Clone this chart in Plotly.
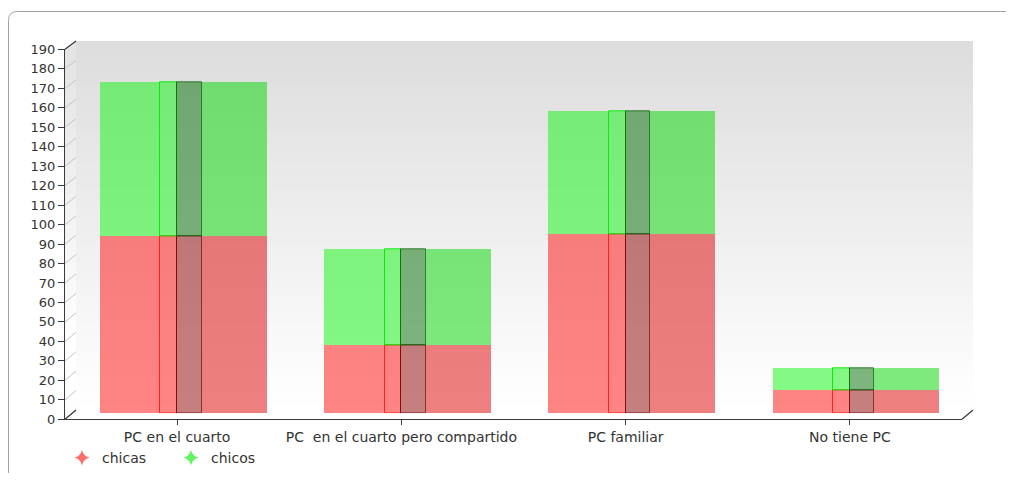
import plotly.graph_objects as go

# ---------------- data ----------------
categories = ["PC en el cuarto", "PC  en el cuarto pero compartido", "PC familiar", "No tiene PC"]
series_names = ["chicas", "chicos"]
chicas = [91, 35, 92, 12]
chicos = [79, 49, 63, 11]
y_ticks = list(range(0, 200, 10))

# ---------------- geometry helpers (window pixel -> paper) ----------------
# the page body has an 8px margin, so the figure is sized to fit the window exactly
WIN_W, WIN_H = 1014, 481
OFF = 8
W, H = WIN_W - 2 * OFF, WIN_H - 2 * OFF


def X(px):
    return (px - OFF) / W


def Y(py):
    return 1 - (py - OFF) / H


FRONT_L, FRONT_R = 65, 962        # front axis x extent
BACK_L, BACK_R = 76, 973          # back wall x extent
FRONT_Y0, FRONT_Y1 = 419.3, 49.3  # front axis: value 0 / 190
BACK_Y0, BACK_Y1 = 410, 41        # back wall: value 0 / 190
BAR_Y0, BAR_Y1 = 413.3, 43.3      # bar plane: value 0 / 190
YMAX = 190


def front_y(v):
    return FRONT_Y0 - v * (FRONT_Y0 - FRONT_Y1) / YMAX


def back_y(v):
    return BACK_Y0 - v * (BACK_Y0 - BACK_Y1) / YMAX


fig = go.Figure()

# ---------------- bars (pseudo 3D prism faces) ----------------
faces = [
    ("left", -0.345, 0.2706),
    ("mid", -0.0744, 0.0744),
    ("dark", 0.0, 0.1096),
    ("right", 0.1096, 0.2895),
]
colors = {
    "chicas": {
        "left": "rgba(255,0,0,0.48)", "mid": "rgba(255,0,0,0.48)",
        "dark": "rgba(140,0,0,0.5)", "right": "rgba(222,0,0,0.5)",
        "midline": "rgba(255,20,20,0.85)", "darkline": "rgba(110,0,0,0.75)",
    },
    "chicos": {
        "left": "rgba(0,245,0,0.48)", "mid": "rgba(0,245,0,0.48)",
        "dark": "rgba(0,110,0,0.5)", "right": "rgba(0,215,0,0.5)",
        "midline": "rgba(0,235,0,0.9)", "darkline": "rgba(0,100,0,0.75)",
    },
}
bases = {"chicas": [0] * len(chicas), "chicos": chicas}
values = {"chicas": chicas, "chicos": chicos}

for name in series_names:
    c = colors[name]
    for face, off, wid in faces:
        if face == "mid":
            line = dict(color=c["midline"], width=1)
        elif face == "dark":
            line = dict(color=c["darkline"], width=1)
        else:
            line = dict(width=0)
        fig.add_trace(go.Bar(
            x=categories, y=values[name], base=bases[name],
            offset=off, width=wid,
            marker=dict(color=c[face], line=line),
            xaxis="x2", yaxis="y2", showlegend=False, hoverinfo="skip",
        ))

# ---------------- legend entries ----------------
legend_colors = {"chicas": "rgba(255,60,60,0.75)", "chicos": "rgba(40,240,40,0.75)"}
for name in series_names:
    fig.add_trace(go.Scatter(
        x=categories, y=[None] * len(categories), mode="markers", name=name,
        marker=dict(symbol="star-diamond", size=11, color=legend_colors[name]),
        xaxis="x", yaxis="y", hoverinfo="skip",
    ))

# ---------------- decorative shapes ----------------
shapes = []
nb = 60
for i in range(nb):
    y1 = BACK_Y1 + (BACK_Y0 - BACK_Y1) * i / nb
    y2 = BACK_Y1 + (BACK_Y0 - BACK_Y1) * (i + 1) / nb + 0.6
    t = i / (nb - 1)
    g = int(round(221 + (255 - 221) * t))
    col = f"rgb({g},{g},{g})"
    shapes.append(dict(type="rect", xref="paper", yref="paper",
                       x0=X(BACK_L), x1=X(BACK_R), y0=Y(y2), y1=Y(y1),
                       fillcolor=col, line=dict(width=0), layer="below"))
    dy = FRONT_Y1 - BACK_Y1
    path = (f"M {X(BACK_L)},{Y(y1)} L {X(BACK_L)},{Y(y2)} "
            f"L {X(FRONT_L)},{Y(y2 + dy)} L {X(FRONT_L)},{Y(y1 + dy)} Z")
    gs = min(255, g + 6)
    shapes.append(dict(type="path", xref="paper", yref="paper", path=path,
                       fillcolor=f"rgb({gs},{gs},{gs})", line=dict(width=0), layer="below"))

for v in y_ticks:
    shapes.append(dict(type="line", xref="paper", yref="paper",
                       x0=X(FRONT_L), y0=Y(front_y(v)), x1=X(BACK_L), y1=Y(back_y(v)),
                       line=dict(color="#c4c4c4", width=1), layer="below"))

edge = dict(color="#3a3a3a", width=1.2)
shapes.append(dict(type="line", xref="paper", yref="paper",
                   x0=X(FRONT_L), y0=Y(FRONT_Y1), x1=X(BACK_L), y1=Y(BACK_Y1), line=edge))
shapes.append(dict(type="line", xref="paper", yref="paper",
                   x0=X(FRONT_L), y0=Y(FRONT_Y0), x1=X(BACK_L), y1=Y(BACK_Y0), line=edge))
shapes.append(dict(type="line", xref="paper", yref="paper",
                   x0=X(FRONT_R), y0=Y(FRONT_Y0), x1=X(BACK_R), y1=Y(BACK_Y0), line=edge))

# outer rounded frame
r = 9
fx0, fy0, fx1, fy1 = 8.5, 11.5, 1030, 490
frame = (f"M {X(fx0)},{Y(fy1 - r)} L {X(fx0)},{Y(fy0 + r)} "
         f"Q {X(fx0)},{Y(fy0)} {X(fx0 + r)},{Y(fy0)} "
         f"L {X(fx1)},{Y(fy0)}")
shapes.append(dict(type="path", xref="paper", yref="paper", path=frame,
                   line=dict(color="#a0a0a0", width=1), layer="below"))

font_main = "DejaVu Sans, Verdana, sans-serif"

fig.update_layout(
    width=W, height=H, autosize=False,
    margin=dict(l=0, r=0, t=0, b=0, pad=0, autoexpand=False),
    paper_bgcolor="white", plot_bgcolor="rgba(0,0,0,0)",
    barmode="overlay", bargap=0,
    font=dict(family=font_main, size=13, color="#333333"),
    shapes=shapes,
    showlegend=True,
    legend=dict(orientation="h", x=X(62), xanchor="left", y=Y(458), yanchor="middle",
                font=dict(family=font_main, size=14, color="#333333"),
                bgcolor="rgba(0,0,0,0)", entrywidth=64, entrywidthmode="pixels",
                itemclick=False, itemdoubleclick=False),
    xaxis=dict(domain=[X(FRONT_L), X(FRONT_R)], anchor="y", type="category",
               categoryorder="array", categoryarray=categories, range=[-0.5, 3.5],
               showgrid=False, zeroline=False, showline=True, linecolor="#3a3a3a", linewidth=1.2,
               ticks="outside", ticklen=5, tickcolor="#3a3a3a", automargin=False,
               tickfont=dict(family=font_main, size=14, color="#333333"), fixedrange=True),
    yaxis=dict(domain=[Y(FRONT_Y0), Y(FRONT_Y1)], anchor="x", range=[0, YMAX],
               tickvals=y_ticks, showgrid=False, zeroline=False,
               showline=True, linecolor="#3a3a3a", linewidth=1.2, automargin=False,
               ticks="outside", ticklen=6, tickcolor="#3a3a3a",
               tickfont=dict(family=font_main, size=13, color="#333333"), fixedrange=True),
    xaxis2=dict(domain=[X(FRONT_L), X(FRONT_R)], anchor="y2", type="category",
                categoryorder="array", categoryarray=categories, range=[-0.5, 3.5],
                visible=False, fixedrange=True, automargin=False),
    yaxis2=dict(domain=[Y(BAR_Y0), Y(BAR_Y1)], anchor="x2", range=[0, YMAX],
                visible=False, fixedrange=True, automargin=False),
    xaxis3=dict(domain=[X(BACK_L), X(BACK_R)], anchor="y3", range=[0, 1],
                showgrid=False, zeroline=False, showticklabels=False, ticks="",
                showline=True, mirror=True, linecolor="#444444", linewidth=1.2,
                layer="below traces", fixedrange=True, automargin=False),
    yaxis3=dict(domain=[Y(BACK_Y0), Y(BACK_Y1)], anchor="x3", range=[0, YMAX],
                tickvals=y_ticks, showticklabels=False, ticks="",
                showgrid=True, gridcolor="#bdbdbd", gridwidth=1, zeroline=False,
                showline=True, mirror=True, linecolor="#444444", linewidth=1.2,
                layer="below traces", fixedrange=True, automargin=False),
)

fig.write_html("out.html")
